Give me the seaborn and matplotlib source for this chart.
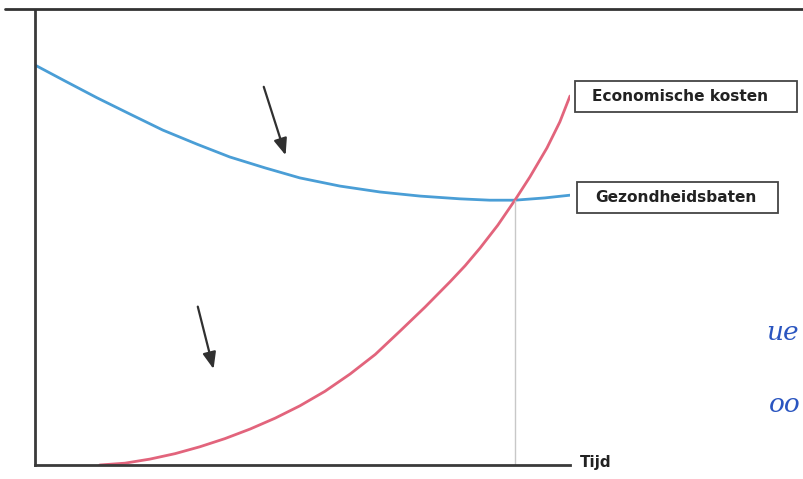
import pandas as pd
import seaborn as sns
import matplotlib.pyplot as plt
from matplotlib.patches import Rectangle

# curve values (tijd 0-100, waarde 0-100)
tijd_baten = [0, 5.6, 11.6, 17.8, 23.9, 30.3, 36.4, 43.0, 49.5, 57.0, 64.5,
              72.0, 79.4, 85.0, 89.7, 95.3, 100]
gezondheidsbaten = [87.9, 84.4, 80.7, 77.1, 73.6, 70.5, 67.7, 65.3, 63.1, 61.3,
                    60.0, 59.1, 58.5, 58.2, 58.2, 58.7, 59.3]

tijd_kosten = [12.1, 16.8, 21.5, 26.2, 30.8, 35.5, 40.2, 44.9, 49.5, 54.2, 58.9,
               63.6, 68.2, 72.9, 77.6, 80.4, 83.2, 86.5, 89.7, 92.5, 95.7, 98.1, 100]
economische_kosten = [0, 0.4, 1.3, 2.5, 4.0, 5.8, 7.9, 10.3, 13.0, 16.2, 20.0,
                      24.3, 29.4, 34.7, 40.3, 43.8, 47.7, 52.7, 58.2, 63.3, 69.7,
                      75.4, 81.1]

label_kosten = "Economische kosten"
label_baten = "Gezondheidsbaten"
label_x = "Tijd"
snijpunt_tijd = 89.7
snijpunt_waarde = 58.2

df_baten = pd.DataFrame({"tijd": tijd_baten, "waarde": gezondheidsbaten})
df_kosten = pd.DataFrame({"tijd": tijd_kosten, "waarde": economische_kosten})

sns.set_style("white")
plt.rcParams['font.family'] = ['DejaVu Sans']

W, H = 804, 479
fig = plt.figure(figsize=(W / 100, H / 100), dpi=100)
ax = fig.add_axes([35 / W, 14 / H, 535 / W, 455 / H])

sns.lineplot(data=df_baten, x="tijd", y="waarde", ax=ax, color="#4a9ed6", lw=2)
sns.lineplot(data=df_kosten, x="tijd", y="waarde", ax=ax, color="#e2647c", lw=2)

ax.set_xlim(0, 100)
ax.set_ylim(0, 100)
ax.vlines(snijpunt_tijd, 0, snijpunt_waarde, color="#c8c8c8", lw=1)

sns.despine(ax=ax)
for side in ["left", "bottom"]:
    ax.spines[side].set_color("#3a3a3a")
    ax.spines[side].set_linewidth(2)
ax.set_xticks([])
ax.set_yticks([])
ax.set_xlabel("")
ax.set_ylabel("")

# pijlen
arrow = dict(arrowstyle="-|>,head_length=1.0,head_width=0.4", color="#303030", lw=1.6)
ax.annotate("", xy=(47, 67.5), xytext=(42.6, 83.7), arrowprops=arrow)
ax.annotate("", xy=(33.5, 20.5), xytext=(30.3, 35.4), arrowprops=arrow)


# labels in kaders (posities in figuurpixels, oorsprong linksboven)
def label_box(x0, y0, x1, y1, tx, text):
    fig.add_artist(Rectangle((x0 / W, 1 - y1 / H), (x1 - x0) / W, (y1 - y0) / H,
                             transform=fig.transFigure, fc="white", ec="#444444", lw=1.3))
    fig.text(tx / W, 1 - (y0 + y1) / 2 / H, text, fontsize=11.1, fontweight="bold",
             color="#222222", va="center", ha="left")


label_box(575, 81, 797, 112, 592, label_kosten)
label_box(577, 182, 778, 213, 595, label_baten)
fig.text(580 / W, 1 - 462 / H, label_x, fontsize=11, fontweight="bold",
         color="#222222", va="center", ha="left")

# bovenrand van het afgeknipte kader
fig.add_artist(plt.Line2D([5 / W, 1], [1 - 9 / H, 1 - 9 / H], color="#333333", lw=2))

# handgeschreven aantekeningen
fig.text(766 / W, 1 - 332 / H, "ue", fontsize=19, color="#2a55c0",
         fontstyle="italic", family="DejaVu Serif", va="center")
fig.text(769 / W, 1 - 404 / H, "oo", fontsize=19, color="#2a55c0",
         fontstyle="italic", family="DejaVu Serif", va="center")

plt.savefig("out.png", dpi=100)
